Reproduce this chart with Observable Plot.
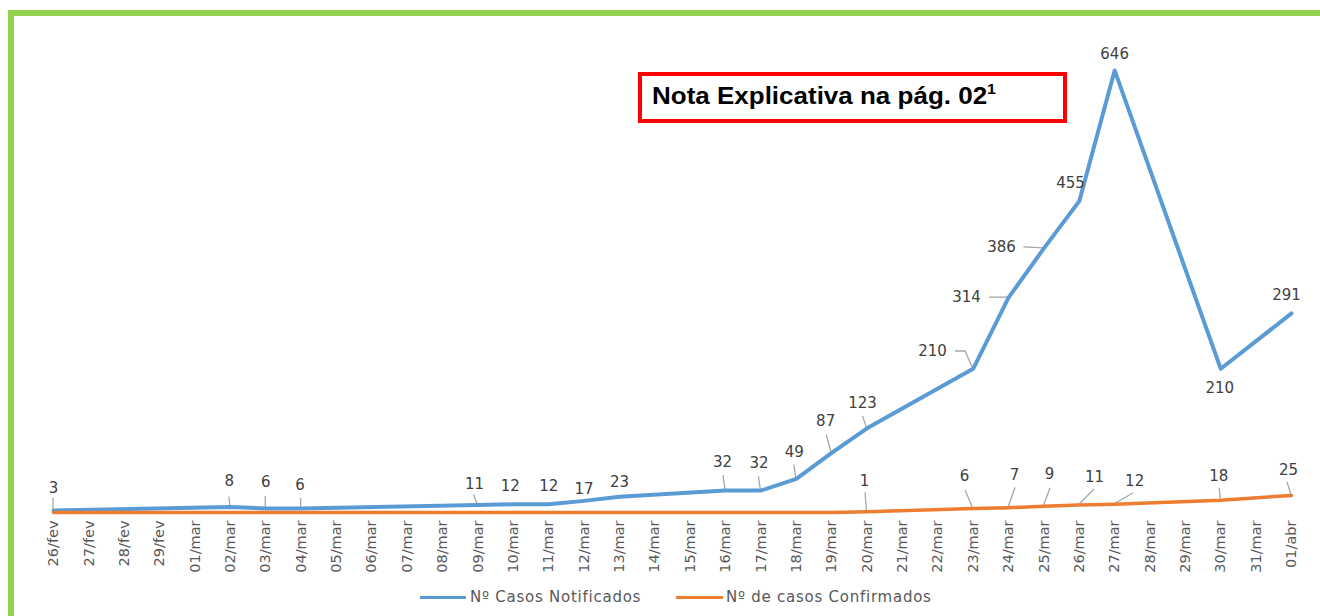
<!DOCTYPE html>
<html>
<head>
<meta charset="utf-8">
<script src="https://cdn.jsdelivr.net/npm/d3@7"></script>
<script src="https://cdn.jsdelivr.net/npm/@observablehq/plot@0.6"></script>
<style>
  html, body { margin: 0; padding: 0; background: #fff; }
  body { width: 1320px; height: 616px; overflow: hidden; position: relative; font-family: "DejaVu Sans", sans-serif; }
  #frame { position: absolute; left: 8px; top: 10px; width: 1312px; height: 606px; box-sizing: border-box;
           border-top: 6px solid #92D050; border-left: 6px solid #92D050; }
  #chart { position: absolute; left: 0; top: 0; }
  #note { position: absolute; left: 638px; top: 72px; width: 429px; height: 51px; box-sizing: border-box;
          border: 4px solid #FF0000; background: #fff; }
  #note .txt { position: absolute; left: 10px; top: 6px; font-family: "Liberation Sans", Arial, sans-serif;
               font-weight: bold; font-size: 23px; color: #000; white-space: nowrap;
               transform: scaleX(1.13); transform-origin: left center; }
  #note sup { font-size: 14px; position: relative; top: -1px; }
  #legend .sw { position: absolute; height: 3px; top: 596px; }
  #legend .lb { position: absolute; top: 588px; font-size: 15px; letter-spacing: 0.75px; color: #595959; line-height: 18px; white-space: nowrap; }
</style>
</head>
<body>
<div id="frame"></div>
<div id="chart"></div>
<div id="legend"></div>
<div id="note"><span class="txt">Nota Explicativa na pág. 02<sup>1</sup></span></div>
<script>
// ---- data ----
const dates = ["26/fev","27/fev","28/fev","29/fev","01/mar","02/mar","03/mar","04/mar","05/mar","06/mar",
  "07/mar","08/mar","09/mar","10/mar","11/mar","12/mar","13/mar","14/mar","15/mar","16/mar","17/mar",
  "18/mar","19/mar","20/mar","21/mar","22/mar","23/mar","24/mar","25/mar","26/mar","27/mar","28/mar",
  "29/mar","30/mar","31/mar","01/abr"];

const seriesNames = ["Nº Casos Notificados", "Nº de casos Confirmados"];
const seriesColors = ["#5B9BD5", "#ED7D31"];

const notifDates = ["26/fev","02/mar","03/mar","04/mar","09/mar","10/mar","11/mar","12/mar","13/mar",
  "16/mar","17/mar","18/mar","19/mar","20/mar","23/mar","24/mar","25/mar","26/mar","27/mar","30/mar","01/abr"];
const notifValues = [3, 8, 6, 6, 11, 12, 12, 17, 23, 32, 32, 49, 87, 123, 210, 314, 386, 455, 646, 210, 291];

const confDates = ["26/fev","27/fev","28/fev","29/fev","01/mar","02/mar","03/mar","04/mar","05/mar","06/mar",
  "07/mar","08/mar","09/mar","10/mar","11/mar","12/mar","13/mar","14/mar","15/mar","16/mar","17/mar",
  "18/mar","19/mar","20/mar","23/mar","24/mar","25/mar","26/mar","27/mar","30/mar","01/abr"];
const confValues = [0,0,0,0,0,0,0,0,0,0,0,0,0,0,0,0,0,0,0,0,0,0,0, 1, 6, 7, 9, 11, 12, 18, 25];

// ---- label placement (pixel offsets from the data point; style only) ----
const notifLabelDx = [0, -1, 0, -1, -3.5, -3, 0, 0, 0, -3, -2, -2, -6, -4.5, -40.6, -42, -42.4, -8.7, 0, -1, -5];
const notifLabelDy = [-22, -25.5, -26, -23, -20.5, -18, -18, -12, -15, -28, -27, -27, -32, -25, -18, 0, -1, -17.7, -16, 19, -18];
const notifLeaders = [
  [[0,-12],[0,0]], [[-1,-10],[0,0]], [[0,-12],[0,0]], [[0,-10],[0,0]], [[-4,-10],[0,0]],
  null, null, null, null,
  [[-2,-15],[0,0]], [[-2,-14],[0,0]], [[-2,-14],[0,0]], [[-5,-18],[0,0]], [[-4,-12],[0,0]],
  [[-17.6,-17.3],[-7.6,-17.3],[0,0]], [[-19,0],[0,0]], [[-20,-1],[0,0]],
  null, null, null, null
];
const confLabelDx = [-2.5, -8.6, 6, 5.6, 15.3, 20, -2, -3];
const confLabelDy = [-31, -32, -33, -32, -27.5, -23, -24, -25];
const confLeaders = [
  [[-1.5,-19],[0,0]], [[-7.6,-18],[0,0]], [[7,-20],[0,0]], [[6.6,-18],[0,0]],
  [[15.3,-15.5],[0,0]], [[19,-11],[0,0]], [[-1,-12],[0,0]], [[-4,-13],[0,0]]
];

// ---- tables ----
const notif = notifDates.map((d, i) => ({date: d, value: notifValues[i], dx: notifLabelDx[i], dy: notifLabelDy[i], leader: notifLeaders[i]}));
const confAll = confDates.map((d, i) => ({date: d, value: confValues[i]}));
const confLabeled = confAll.filter(d => d.value > 0).map((d, i) => ({...d, dx: confLabelDx[i], dy: confLabelDy[i], leader: confLeaders[i]}));

function leaderMark(items) {
  return (index, scales) => {
    const g = d3.create("svg:g");
    for (const it of items) {
      if (!it.leader) continue;
      const px = scales.x(it.date), py = scales.y(it.value);
      g.append("polyline")
        .attr("points", it.leader.map(([a, b]) => `${px + a},${py + b}`).join(" "))
        .attr("fill", "none").attr("stroke", "#A6A6A6").attr("stroke-width", 1.3);
    }
    return g.node();
  };
}

function labelMarks(items) {
  return items.map(d => Plot.text([d], {
    x: "date", y: "value", text: r => String(r.value),
    dx: d.dx, dy: d.dy, fontSize: 15, fill: "#404040", textAnchor: "middle"
  }));
}

const chart = Plot.plot({
  width: 1320,
  height: 580,
  marginLeft: 53, marginRight: 29, marginTop: 20, marginBottom: 68,
  x: {type: "point", domain: dates, range: [53, 1291], padding: 0, round: false, label: null, tickRotate: -90, tickSize: 0, tickPadding: 8},
  y: {domain: [0, 700], range: [512, 33], axis: null},
  style: {fontFamily: "DejaVu Sans, sans-serif", fontSize: "14.5px", color: "#595959", background: "transparent", overflow: "visible"},
  marks: [
    leaderMark(notif),
    leaderMark(confLabeled),
    Plot.line(notif, {x: "date", y: "value", stroke: seriesColors[0], strokeWidth: 4, strokeLinejoin: "round", strokeLinecap: "round"}),
    Plot.line(confAll, {x: "date", y: "value", stroke: seriesColors[1], strokeWidth: 3.5, strokeLinejoin: "round", strokeLinecap: "round"}),
    ...labelMarks(notif),
    ...labelMarks(confLabeled)
  ]
});
document.getElementById("chart").appendChild(chart);

// ---- legend ----
const legend = document.getElementById("legend");
const swLeft = [420, 676], swWidth = [46, 47], lbLeft = [470, 726];
seriesNames.forEach((name, i) => {
  const sw = document.createElement("div");
  sw.className = "sw";
  sw.style.left = swLeft[i] + "px";
  sw.style.width = swWidth[i] + "px";
  sw.style.background = seriesColors[i];
  legend.appendChild(sw);
  const lb = document.createElement("div");
  lb.className = "lb";
  lb.style.left = lbLeft[i] + "px";
  lb.textContent = name;
  legend.appendChild(lb);
});
</script>
</body>
</html>
